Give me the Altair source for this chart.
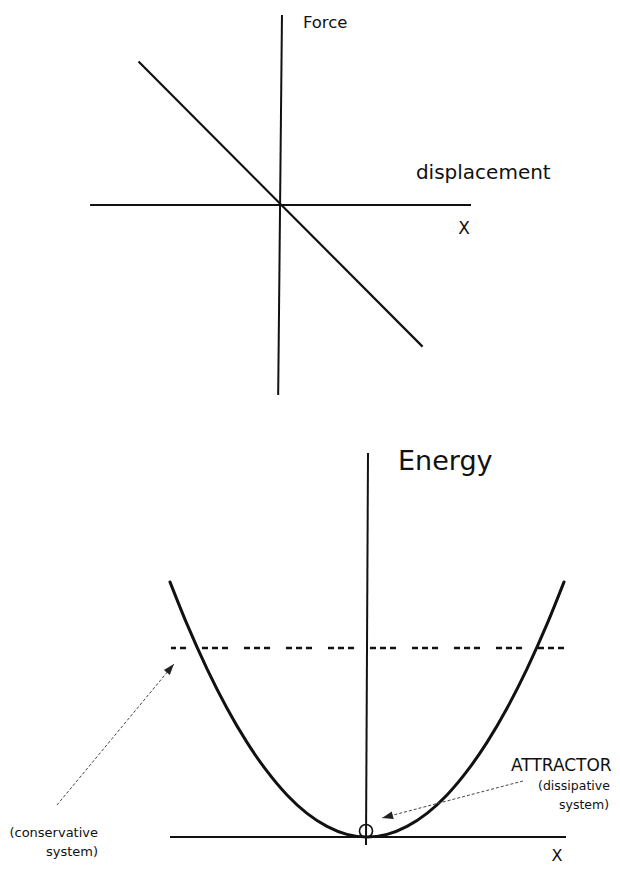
import altair as alt
import pandas as pd

FONT = "DejaVu Sans"
INK = "#111111"

# ---------------- top panel: restoring force vs displacement ----------------
top_x_domain = [-14.42, 17.37]
top_y_domain = [-10.68, 10.37]

force_axis_x_start = [-10.1, 0.0]
force_axis_x_end = [9.95, -0.2]
force_axis_y_start = [0.0, 10.0]
force_axis_y_end = [0.0, -10.0]

displacement_values = [-7.55, 7.4]
force_values = [7.55, -7.45]

top_labels = ["Force", "displacement", "X"]
top_label_x = [1.1, 7.05, 9.58]
top_label_y = [9.58, 1.68, -1.26]
top_label_size = [16.5, 20, 17]
top_label_align = ["left", "left", "center"]

# ---------------- bottom panel: potential energy well ----------------
bot_x_domain = [-17.95, 12.25]
bot_y_domain = [-1.5, 21.45]

well_x = [-9.85, -9, -8, -7, -6, -5, -4, -3, -2, -1, 0,
          1, 2, 3, 4, 5, 6, 7, 8, 9, 9.85]
well_energy = [12.75, 10.64, 8.41, 6.44, 4.73, 3.29, 2.10, 1.18, 0.53, 0.13, 0.0,
               0.13, 0.53, 1.18, 2.10, 3.29, 4.73, 6.44, 8.41, 10.64, 12.75]

energy_axis_x_start = [-9.85, 0.05]
energy_axis_x_end = [9.95, -0.05]
energy_axis_y_start = [0.0, 19.2]
energy_axis_y_end = [0.0, -0.4]

conservative_level_x = [-9.8, 9.95]
conservative_level_energy = 9.45

attractor_x = [-0.05]
attractor_energy = [0.3]

arrow_names = ["conservative", "attractor"]
arrow_x_start = [-15.5, 7.8]
arrow_y_start = [1.6, 2.8]
arrow_x_tip = [-9.65, 0.75]
arrow_y_tip = [8.65, 0.95]
arrowhead_x = [-9.83, 1.02]
arrowhead_y = [8.44, 1.02]
arrowhead_angle = [40, 255]

bot_labels = ["Energy", "ATTRACTOR", "(dissipative", "system)",
              "(conservative", "system)", "X"]
bot_label_x = [1.55, 7.2, 8.55, 9.6, -13.45, -13.45, 9.5]
bot_label_y = [18.75, 3.55, 2.55, 1.6, 0.2, -0.75, -0.95]
bot_label_size = [27, 17, 12.5, 12.5, 13, 13, 16]
bot_label_align = ["left", "left", "left", "left", "right", "right", "center"]


def scales(xd, yd):
    sx = alt.Scale(domain=xd, nice=False, zero=False)
    sy = alt.Scale(domain=yd, nice=False, zero=False)
    return sx, sy


def segments(df, sx, sy, **mark_kw):
    return alt.Chart(df).mark_rule(clip=True, **mark_kw).encode(
        x=alt.X("x:Q", scale=sx, axis=None),
        y=alt.Y("y:Q", scale=sy, axis=None),
        x2="x2:Q",
        y2="y2:Q",
    )


def labels(df, sx, sy, align):
    return alt.Chart(df).mark_text(
        clip=True, font=FONT, color=INK, align=align, baseline="middle"
    ).encode(
        x=alt.X("x:Q", scale=sx, axis=None),
        y=alt.Y("y:Q", scale=sy, axis=None),
        text="label:N",
        size=alt.Size("size:Q", scale=None, legend=None),
    )


# ---- top panel ----
tsx, tsy = scales(top_x_domain, top_y_domain)
top_axes = pd.DataFrame({"x": force_axis_x_start, "x2": force_axis_x_end,
                         "y": force_axis_y_start, "y2": force_axis_y_end})
top_line = pd.DataFrame({"x": [displacement_values[0]], "x2": [displacement_values[1]],
                         "y": [force_values[0]], "y2": [force_values[1]]})
top_text = pd.DataFrame({"label": top_labels, "x": top_label_x, "y": top_label_y,
                         "size": top_label_size, "align": top_label_align})

top_layers = [
    segments(top_axes, tsx, tsy, color=INK, strokeWidth=2),
    segments(top_line, tsx, tsy, color=INK, strokeWidth=2.2),
]
for a in ["left", "center"]:
    sub = top_text[top_text["align"] == a]
    top_layers.append(labels(sub, tsx, tsy, a))
top = alt.layer(*top_layers).properties(width=604, height=400)

# ---- bottom panel ----
bsx, bsy = scales(bot_x_domain, bot_y_domain)
bot_axes = pd.DataFrame({"x": energy_axis_x_start, "x2": energy_axis_x_end,
                         "y": energy_axis_y_start, "y2": energy_axis_y_end})
level = pd.DataFrame({"x": [conservative_level_x[0]], "x2": [conservative_level_x[1]],
                      "y": [conservative_level_energy], "y2": [conservative_level_energy]})
well = pd.DataFrame({"x": well_x, "y": well_energy})
attr = pd.DataFrame({"x": attractor_x, "y": attractor_energy})
arrows = pd.DataFrame({"name": arrow_names, "x": arrow_x_start, "x2": arrow_x_tip,
                       "y": arrow_y_start, "y2": arrow_y_tip})
heads = pd.DataFrame({"name": arrow_names, "x": arrowhead_x, "y": arrowhead_y,
                      "angle": arrowhead_angle})
bot_text = pd.DataFrame({"label": bot_labels, "x": bot_label_x, "y": bot_label_y,
                         "size": bot_label_size, "align": bot_label_align})

well_line = alt.Chart(well).mark_line(
    clip=True, color=INK, strokeWidth=3, interpolate="monotone", strokeCap="round"
).encode(
    x=alt.X("x:Q", scale=bsx, axis=None),
    y=alt.Y("y:Q", scale=bsy, axis=None),
    order="x:Q",
)
attr_pt = alt.Chart(attr).mark_point(
    clip=True, shape="circle", filled=False, size=170, color=INK, strokeWidth=1.6, opacity=1
).encode(
    x=alt.X("x:Q", scale=bsx, axis=None),
    y=alt.Y("y:Q", scale=bsy, axis=None),
)
head_pts = alt.Chart(heads).mark_point(
    clip=True, shape="M0,-1L0.7,1L-0.7,1Z", filled=True, size=121, color="#222222", opacity=1
).encode(
    x=alt.X("x:Q", scale=bsx, axis=None),
    y=alt.Y("y:Q", scale=bsy, axis=None),
    angle=alt.Angle("angle:Q", scale=None),
)

bot_layers = [
    segments(bot_axes, bsx, bsy, color=INK, strokeWidth=2),
    segments(level, bsx, bsy, color=INK, strokeWidth=2.5,
             strokeDash=[6, 4, 6, 4, 6, 16], strokeDashOffset=11),
    well_line,
    attr_pt,
    segments(arrows, bsx, bsy, color="#444444", strokeWidth=1, strokeDash=[3, 2]),
    head_pts,
]
for a in ["left", "right", "center"]:
    sub = bot_text[bot_text["align"] == a]
    bot_layers.append(labels(sub, bsx, bsy, a))
bottom = alt.layer(*bot_layers).properties(width=604, height=459)

chart = alt.vconcat(top, bottom, spacing=0).properties(
    padding=0, background="white"
).configure_view(stroke="transparent", strokeWidth=0)

chart.save("out.html", embed_options={"renderer": "svg", "actions": False})
